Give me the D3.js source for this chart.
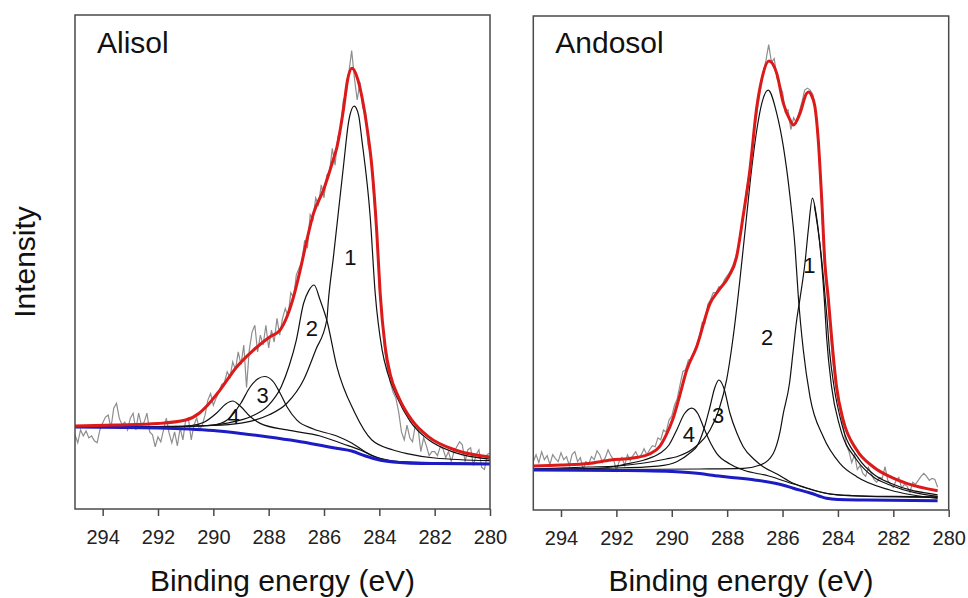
<!DOCTYPE html>
<html><head><meta charset="utf-8">
<script src="https://cdn.jsdelivr.net/npm/d3@7"></script>
<style>body{margin:0;background:#fff} text{font-family:"Liberation Sans",Arial,sans-serif}</style>
</head><body>
<svg id="c" width="968" height="598"></svg>
<script>
// ---------- DATA (binding energy eV, intensity a.u.) ----------
const xTicks = [294, 292, 290, 288, 286, 284, 282, 280];
const panelTitles = ["Alisol", "Andosol"];
const xAxisTitle = "Binding energy (eV)";
const yAxisTitle = "Intensity";

// Alisol
const alisolRawStart = 295.0, alisolRawStep = 0.1;
const alisolRaw = [
 75,67,80,74,79,72,74,69,67,80,
 87,93,95,82,102,107,92,85,88,80,
 92,97,80,97,85,88,97,78,75,63,
 73,68,80,92,77,67,78,64,82,70,
 90,92,70,85,92,80,85,95,110,117,
 105,112,118,126,128,139,133,149,141,159,
 146,166,123,161,179,186,159,176,166,186,
 163,181,169,193,176,193,203,195,219,214,
 237,244,250,272,264,298,293,315,308,328,
 315,338,341,365,348,376,386,414,419,442,
 464,436,414,432,406,402,368,358,315,284,
 222,193,159,141,128,118,112,98,78,70,
 85,72,68,85,82,58,72,64,54,58,
 58,54,63,61,52,58,48,58,63,68,
 65,48,60,62,44,55,60,42,40,55,
 57];
const alisolBackground = [[295,83],[292,82],[290,79.4],[289,76.4],[288,72.9],[287,68.8],[286,63.8],[285.5,61.2],[285,58.7],[284.5,53.6],[284,49.6],[283.5,47.6],[283,46.6],[282,46],[280,45.5]];
const alisolEnvelope = [[295,84],[293.5,85],[292,86.5],[291,90],[290.5,97.2],[290.2,105.2],[289.76,120.4],[289.15,144],[288.55,160.9],[287.95,174.4],[287.59,181.1],[287.34,194.6],[287.1,214.8],[286.86,241.9],[286.62,272.2],[286.38,299.2],[286.02,322.8],[285.67,353.2],[285.53,366.6],[285.3,403.8],[285.15,434.1],[284.99,446],[284.81,437.5],[284.63,417.2],[284.45,386.9],[284.27,346.4],[284.09,279],[283.97,218.3],[283.79,164.2],[283.6,135.6],[283.31,113.6],[282.83,90.1],[282.23,73.2],[281.26,59.7],[280,52.6]];
const alisolComp1 = [[295,83],[292,83.5],[290,84.5],[289,87],[288.5,90],[288,95.1],[287.34,107],[286.74,130.5],[286.3,161],[285.9,191.3],[285.84,211.5],[285.66,255],[285.3,346.1],[285.1,393.7],[284.91,407.8],[284.75,398.7],[284.63,373.4],[284.33,295.8],[284.15,218.6],[283.9,161],[283.7,137.6],[283.37,113.6],[282.88,88.5],[282.22,70],[281.26,57],[280,50.5]];
const alisolComp2 = [[295,83],[292,83],[290.5,84],[289.5,87],[288.6,94.1],[288,105.2],[287.55,123.5],[287.25,145.7],[287,171],[286.74,208],[286.55,221],[286.36,226.7],[286.14,211.5],[285.9,191.3],[285.54,144.7],[284.9,98.2],[284.27,69.8],[283.5,59.7],[283,56],[282,51.6],[280,48.9]];
const alisolComp3 = [[295,83],[291,83.5],[290,85],[289.5,90],[289,107.3],[288.67,123.5],[288.4,131.6],[288.15,134.1],[287.85,129.5],[287.59,117.4],[287.34,103.5],[286.98,90],[286.38,81],[285.54,73.9],[285,66.8],[284.5,57.7],[284,51.6],[283,47.6],[280,46]];
const alisolComp4 = [[295,83],[291.5,83.5],[290.8,84.5],[290.36,87.5],[289.88,97.2],[289.55,106.3],[289.3,109.3],[289.03,104.2],[288.67,93.6],[288.31,86.7],[287.34,80],[286.14,73.9],[285.3,65.8],[284.69,59.7],[284,51.1],[283,47],[280,45.5]];
const alisolLabels = [["1",285.05,255],["2",286.44,183],["3",288.22,115],["4",289.27,94]];

// Andosol
const andosolRawStart = 295.0, andosolRawStep = 0.1;
const andosolRaw = [
 49,56,48,59,51,55,46,56,52,49,
 58,51,54,45,56,59,49,53,41,49,
 46,54,51,60,56,48,53,61,55,51,
 40,49,53,45,56,50,55,59,53,56,
 62,56,61,65,64,73,71,81,79,91,
 95,106,113,127,140,142,152,152,160,167,
 176,190,189,208,213,220,220,226,225,233,
 237,241,247,255,267,285,302,324,342,364,
 387,407,425,443,455,471,453,457,437,430,
 423,403,405,385,397,392,403,413,425,427,
 425,420,400,369,314,255,223,190,154,130,
 113,99,83,66,59,48,56,41,45,37,
 34,43,37,31,28,33,32,44,30,26,
 23,30,33,22,26,24,18,28,26,30,
 34,37,34,30,32,31,23];
const andosolBackground = [[295,40.5],[292,40],[291,39.8],[290,39],[289,36.9],[288.62,35.4],[288,33.4],[287,30.4],[286,25.3],[285.61,22],[285,17.2],[284.41,11.8],[284,10.6],[283,10.1],[280.4,9.4]];
const andosolEnvelope = [[295,44.5],[294,45.5],[293,47.1],[292.2,50.6],[291.4,52.6],[290.8,56.7],[290.44,64.1],[290.2,76],[289.96,92],[289.75,112],[289.46,141.7],[289.1,165.3],[288.62,209],[288.3,222.6],[287.95,236],[287.66,256],[287.42,298],[287.18,344],[286.93,408],[286.75,436],[286.49,454.4],[286.21,441.9],[285.97,411.6],[285.73,394.7],[285.61,389.6],[285.37,401.5],[285.13,421.7],[285.05,423],[284.96,420],[284.83,408.1],[284.71,374.4],[284.59,317.1],[284.47,249.7],[284.35,215],[284.23,175.4],[284.05,124.8],[283.81,91.1],[283.32,60.7],[282.73,43.8],[282.12,33.7],[281.52,27],[280.4,19.5]];
const andosolComp1 = [[295,40.9],[292,41],[289,41.5],[287.42,42.2],[286.8,45.5],[286.34,57],[286.1,78],[285.97,98],[285.75,128],[285.62,160],[285.5,190],[285.37,214],[285.19,250],[285.07,283.4],[284.92,315.7],[284.8,301.6],[284.71,283.4],[284.59,250],[284.49,212.5],[284.41,175.4],[284.23,124.8],[283.93,84.3],[283.32,50.6],[282.73,33.7],[282.12,25.3],[280.4,13.7]];
const andosolComp1b = [[284.85,308],[284.75,290],[284.62,262],[284.5,228],[284.4,196],[284.3,160],[284.13,123],[283.85,86],[283.25,52],[282.7,36],[282.1,27],[280.4,15.4]];
const andosolComp2 = [[295,41.5],[293,43.5],[292,44.5],[291,47.6],[290.2,51.6],[289.82,53.9],[289.2,62.7],[288.62,81],[288.3,101.2],[288.02,131.6],[287.75,182.2],[287.54,232.8],[287.3,296.8],[287.12,344.1],[286.93,384.6],[286.75,411.6],[286.52,425],[286.21,401.5],[285.97,367.7],[285.73,317.1],[285.55,266.5],[285.43,215.9],[285.25,161.9],[285.01,114.7],[284.53,74.2],[283.93,47.3],[283.32,33.7],[282.12,20.2],[280.4,11.8]];
const andosolComp3 = [[295,41.5],[292,42.5],[290.5,44.5],[289.82,48.9],[289.3,58.7],[289.1,64.1],[288.85,81],[288.62,104.5],[288.45,123.5],[288.3,131.6],[288.12,123.5],[287.9,97.9],[287.65,77.9],[287.42,64.1],[287,50.6],[286.7,43.8],[286.2,36.4],[285.61,27],[285,21.3],[284.41,16.9],[283.5,14.7],[282,13.7],[280.4,13.2]];
const andosolComp4 = [[295,41],[292.5,42.5],[291.63,46.6],[291,50.6],[290.43,57.4],[290.1,65.8],[289.82,81],[289.55,97.2],[289.28,103.2],[289.05,97.2],[288.86,84.3],[288.6,67.8],[288.38,57.4],[287.9,46.6],[287.42,40.5],[286.5,34.4],[285.6,26.3],[284.5,17.2],[283.5,14.2],[280.4,12.7]];
const andosolLabels = [["1",285.03,247],["2",286.56,175],["3",288.33,96],["4",289.38,76]];

// ---------- DRAWING ----------
const svg = d3.select("#c");
const FONT = '"Liberation Sans", Arial, sans-serif';

const panels = [
  {title: panelTitles[0], box: {x0: 75, x1: 490, y0: 15, y1: 509},
   raw: alisolRaw, rawStart: alisolRawStart, rawStep: alisolRawStep,
   bg: alisolBackground, env: alisolEnvelope,
   comps: [alisolComp1, alisolComp2, alisolComp3, alisolComp4], labels: alisolLabels},
  {title: panelTitles[1], box: {x0: 533.3, x1: 948.7, y0: 16, y1: 510},
   raw: andosolRaw, rawStart: andosolRawStart, rawStep: andosolRawStep,
   bg: andosolBackground, env: andosolEnvelope,
   comps: [andosolComp1, andosolComp1b, andosolComp2, andosolComp3, andosolComp4], labels: andosolLabels}
];

panels.forEach((p, pi) => {
  const b = p.box;
  const x = d3.scaleLinear().domain([295, 280]).range([b.x0, b.x1]);
  const y = d3.scaleLinear().domain([0, 500]).range([b.y1, b.y0]);
  const g = svg.append("g");
  const clipId = "clip" + pi;
  svg.append("defs").append("clipPath").attr("id", clipId)
    .append("rect").attr("x", b.x0).attr("y", b.y0).attr("width", b.x1 - b.x0).attr("height", b.y1 - b.y0);
  const plot = g.append("g").attr("clip-path", `url(#${clipId})`);

  const smooth = d3.line().x(d => x(d[0])).y(d => y(d[1])).curve(d3.curveMonotoneX);
  const raw = p.raw.map((v, i) => [p.rawStart - i * p.rawStep, v]);
  plot.append("path").attr("d", d3.line().x(d => x(d[0])).y(d => y(d[1]))(raw))
    .attr("fill", "none").attr("stroke", "#8e8e8e").attr("stroke-width", 1.2);

  p.comps.forEach(c => {
    plot.append("path").attr("d", smooth(c)).attr("fill", "none")
      .attr("stroke", "#111").attr("stroke-width", 1.2);
  });
  plot.append("path").attr("d", smooth(p.bg)).attr("fill", "none")
    .attr("stroke", "#1c1cc4").attr("stroke-width", 3);
  plot.append("path").attr("d", smooth(p.env)).attr("fill", "none")
    .attr("stroke", "#dc1a1a").attr("stroke-width", 3);

  // frame
  g.append("rect").attr("x", b.x0).attr("y", b.y0).attr("width", b.x1 - b.x0).attr("height", b.y1 - b.y0)
    .attr("fill", "none").attr("stroke", "#4a4a4a").attr("stroke-width", 1.5);

  // axis
  const ax = g.append("g").attr("transform", `translate(0,${b.y1})`)
    .call(d3.axisBottom(x).tickValues(xTicks).tickSize(7).tickPadding(14).tickSizeOuter(0).tickFormat(d3.format("d")));
  ax.select(".domain").remove();
  ax.selectAll(".tick line").attr("stroke", "#4a4a4a").attr("stroke-width", 1.5);
  ax.selectAll(".tick text").attr("font-size", 20).attr("font-family", FONT).attr("fill", "#222");

  // axis title
  g.append("text").attr("x", (b.x0 + b.x1) / 2).attr("y", 591).attr("text-anchor", "middle")
    .attr("font-size", 30).attr("font-family", FONT).attr("fill", "#111").text(xAxisTitle);

  // panel title
  g.append("text").attr("x", b.x0 + 22).attr("y", 53).attr("font-size", 30)
    .attr("font-family", FONT).attr("fill", "#111").text(p.title);

  // component labels
  p.labels.forEach(l => {
    g.append("text").attr("x", x(l[1])).attr("y", y(l[2])).attr("text-anchor", "middle")
      .attr("dominant-baseline", "central").attr("font-size", 22).attr("font-family", FONT)
      .attr("fill", "#111").text(l[0]);
  });
});

svg.append("text").attr("transform", "translate(35,262) rotate(-90)").attr("text-anchor", "middle")
  .attr("font-size", 30).attr("font-family", FONT).attr("fill", "#111").text(yAxisTitle);
</script>
</body></html>
